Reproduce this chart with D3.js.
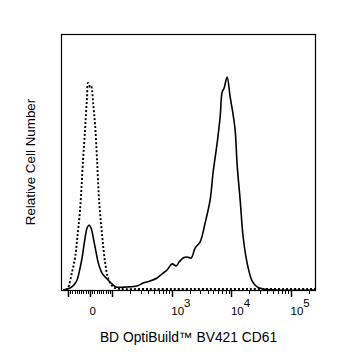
<!DOCTYPE html>
<html>
<head>
<meta charset="utf-8">
<script src="https://cdn.jsdelivr.net/npm/d3@7"></script>
<style>
  html, body { margin: 0; padding: 0; background: #fff; }
  svg { display: block; }
  text { font-family: "Liberation Sans", Arial, sans-serif; fill: #000; }
</style>
</head>
<body>
<svg id="chart" width="337" height="360"></svg>
<script>
// Fluorescence intensity (BV421) and relative cell counts for each histogram
const controlX = [-108, -100, -81.6, -68, -58.9, -45.3, -31.7, -22.7, -18.1, -13.6, -9.1, -4.5, 0, 4.5, 9.1, 13.6, 22.7, 31.7, 40.8, 54.4, 68, 81.6, 100, 116.5, 136, 400, 2000, 20000, 262144];
const controlY = [0, 0.8, 7.0, 12.5, 19.5, 31.3, 50.8, 62.5, 69.5, 75.4, 80.9, 80.5, 79.3, 79.7, 78.1, 73.4, 64.5, 50.8, 35.2, 21.5, 10.9, 4.7, 1.6, 0.6, 0.4, 0.4, 0.4, 0.4, 0.4];

const stainedX = [-121, -90.7, -72.6, -58.9, -45.3, -36.3, -22.7, -13.6, -4.5, 4.5, 18.1, 27.2, 36.3, 54.4, 77.1, 100, 116.5, 178, 262, 331, 433, 568, 689, 835, 1013, 1183, 1328, 1550, 1809, 2112, 2465, 2990, 3627, 4400, 4941, 5767, 6474, 6996, 7556, 8485, 9528, 10698, 11560, 12490, 14020, 15740, 18380, 22290, 27040, 34100, 54200, 262144];
const stainedY = [0, 0.8, 2.0, 3.9, 8.6, 12.5, 20.3, 24.2, 25.4, 24.2, 18.8, 14.8, 10.9, 6.6, 4.3, 2.3, 1.2, 1.2, 1.6, 2.7, 3.5, 4.7, 6.3, 7.8, 10.2, 9.4, 10.9, 12.5, 12.9, 12.5, 16.4, 18.8, 26.2, 35.2, 46.1, 57.4, 67.6, 77.3, 78.9, 83.2, 75.4, 68.4, 62.5, 48.8, 35.2, 20.7, 10.5, 3.5, 1.2, 0.4, 0, 0];

// Axis ticks
const majorTicks = [-100, 0, 100, 1e3, 1e4, 1e5];
const minorTicks = [
  -90, -80, -70, -60, -50, -40, -30, -20, -10,
  10, 20, 30, 40, 50, 60, 70, 80, 90,
  200, 300, 400, 500, 600, 700, 800, 900,
  2e3, 3e3, 4e3, 5e3, 6e3, 7e3, 8e3, 9e3,
  2e4, 3e4, 4e4, 5e4, 6e4, 7e4, 8e4, 9e4,
  2e5
];
const tickLabels = [
  { v: 0, base: "0", exp: "" },
  { v: 1e3, base: "10", exp: "3" },
  { v: 1e4, base: "10", exp: "4" },
  { v: 1e5, base: "10", exp: "5" }
];

const xTitle = "BD OptiBuild™ BV421 CD61";
const yTitle = "Relative Cell Number";

// Plot frame
const frame = { left: 61, right: 316, top: 34, bottom: 290 };

// Biexponential-style display: linear around zero, logarithmic beyond ±100
const linW = 0.37;
const biex = v => Math.abs(v) <= 100
  ? linW * v / 100
  : Math.sign(v) * (linW + Math.log10(Math.abs(v) / 100));

const xLin = d3.scaleLinear().domain([biex(-131), biex(262144)]).range([frame.left, frame.right]);
const x = v => xLin(biex(v));
const y = d3.scaleLinear().domain([0, 100]).range([frame.bottom, frame.top]);

const svg = d3.select("#chart");

const line = d3.line()
  .x(d => x(d[0]))
  .y(d => y(d[1]))
  .curve(d3.curveCatmullRom.alpha(0.5));

svg.append("clipPath").attr("id", "plotClip")
  .append("rect")
  .attr("x", frame.left).attr("y", frame.top - 5)
  .attr("width", frame.right - frame.left).attr("height", frame.bottom - frame.top + 5);

const plot = svg.append("g").attr("clip-path", "url(#plotClip)");

// Isotype control (dotted)
plot.append("path")
  .datum(d3.zip(controlX, controlY))
  .attr("d", line)
  .attr("fill", "none")
  .attr("stroke", "#000")
  .attr("stroke-width", 1.9)
  .attr("stroke-dasharray", "2,2");

// Stained sample (solid)
plot.append("path")
  .datum(d3.zip(stainedX, stainedY))
  .attr("d", line)
  .attr("fill", "none")
  .attr("stroke", "#000")
  .attr("stroke-width", 1.6)
  .attr("stroke-linejoin", "round");

// Frame
svg.append("rect")
  .attr("x", frame.left + 0.5).attr("y", frame.top + 0.5)
  .attr("width", frame.right - frame.left - 1).attr("height", frame.bottom - frame.top)
  .attr("fill", "none")
  .attr("stroke", "#000")
  .attr("stroke-width", 1.2);

// Ticks below the frame
const ticks = svg.append("g").attr("stroke", "#000").attr("stroke-width", 1);
ticks.selectAll("line.minor")
  .data(minorTicks)
  .join("line")
  .attr("class", "minor")
  .attr("x1", d => Math.round(x(d)) + 0.5).attr("x2", d => Math.round(x(d)) + 0.5)
  .attr("y1", frame.bottom).attr("y2", frame.bottom + 4);
ticks.selectAll("line.major")
  .data(majorTicks)
  .join("line")
  .attr("class", "major")
  .attr("stroke-width", 1.5)
  .attr("x1", d => Math.round(x(d)) + 0.5).attr("x2", d => Math.round(x(d)) + 0.5)
  .attr("y1", frame.bottom).attr("y2", frame.bottom + 7);

// Tick labels with superscript exponents
const labels = svg.append("g").attr("font-size", 11.5);
tickLabels.forEach(t => {
  const txt = labels.append("text")
    .attr("x", x(t.v) - 0.5)
    .attr("y", 315)
    .attr("text-anchor", "start");
  txt.append("tspan").text(t.base);
  if (t.exp) {
    txt.append("tspan").attr("dy", -8).text(t.exp);
  }
});

// Axis titles
svg.append("text")
  .attr("x", (frame.left + frame.right) / 2)
  .attr("y", 342)
  .attr("text-anchor", "middle")
  .attr("font-size", 13.8)
  .text(xTitle);

svg.append("text")
  .attr("transform", `translate(35,${(frame.top + frame.bottom) / 2}) rotate(-90)`)
  .attr("text-anchor", "middle")
  .attr("font-size", 13.4)
  .text(yTitle);
</script>
</body>
</html>
